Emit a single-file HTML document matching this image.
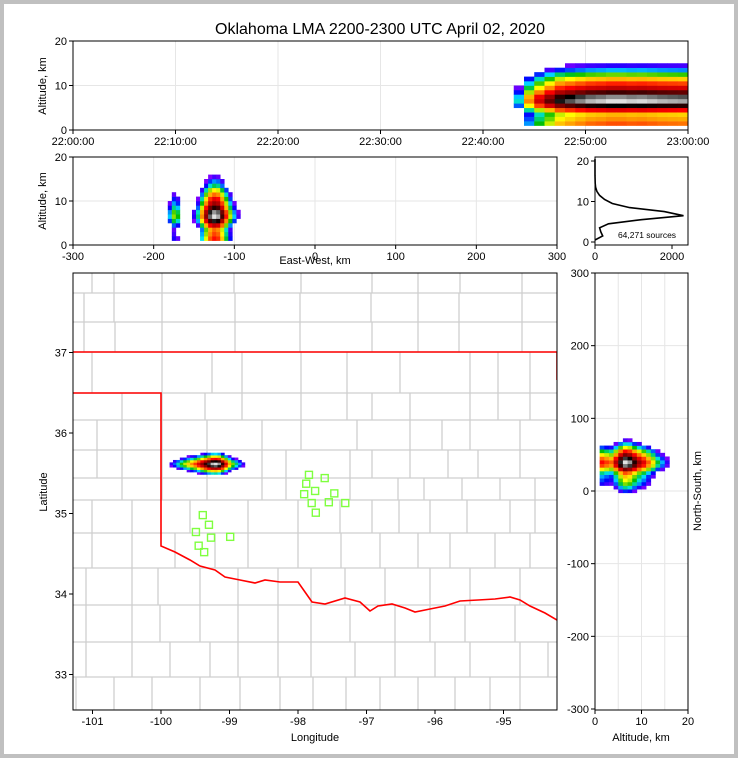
<!DOCTYPE html>
<html><head><meta charset="utf-8"><style>
html,body{margin:0;padding:0;background:#fff}
#wrap{width:730px;height:750px;border:4px solid #c0c0c0;position:relative;background:#fff}
svg{position:absolute;left:-4px;top:-4px}
text{font-family:"Liberation Sans",sans-serif;fill:#000}
</style></head><body>
<div id="wrap">
<svg id="s" width="738" height="758" xmlns="http://www.w3.org/2000/svg"></svg>
</div>
<script>
// ---------- data ----------
const altKm=[0,1,2,3,4,5,6,7,8,9,10,11,12,13,14,15,16,17,18,19,20];
const altCounts=[0,200,150,120,350,1200,2300,1800,900,450,250,120,50,15,6,2,1,0,0,0,0];
const minuteStarts=[43,44,45,46,47,48,49,50,51,52,53,54,55,56,57,58,59];
const minuteCounts=[40,300,800,1500,2500,3000,3500,4000,4200,4500,4500,4300,4400,4200,4000,3900,3800];
const ewKm=[-185,-180,-175,-170,-165,-160,-155,-150,-145,-140,-135,-130,-125,-120,-115,-110,-105,-100,-95,-90,-85,-80];
const ewCounts=[5,60,250,150,10,2,5,20,100,800,4000,12000,18000,15000,6000,1500,300,60,15,5,2,1];
const nsKm=[0,5,10,15,20,25,30,35,40,45,50,55,60,65,70];
const nsCounts=[30,100,250,400,600,1200,5000,15000,21000,12000,5000,1800,400,80,15];
const mapLon=[-99.85,-99.8,-99.75,-99.7,-99.65,-99.6,-99.55,-99.5,-99.45,-99.4,-99.35,-99.3,-99.25,-99.2,-99.15,-99.1,-99.05,-99.0,-98.95,-98.9,-98.85,-98.8,-98.75];
const mapLonCounts=[20,40,80,150,250,400,600,900,1500,2500,4000,6000,9000,10000,8000,4000,1500,500,200,100,50,20,10];
const mapLat=[35.50,35.53,35.56,35.59,35.62,35.65,35.68,35.71,35.74];
const mapLatCounts=[100,500,2500,8000,12000,6000,1500,400,80];
const sensorLon=[-97.84,-97.61,-97.88,-97.75,-97.47,-97.91,-97.55,-97.80,-97.31,-97.74,-99.39,-99.30,-99.49,-99.27,-98.99,-99.45,-99.37];
const sensorLat=[35.48,35.44,35.37,35.28,35.25,35.24,35.14,35.13,35.13,35.01,34.98,34.86,34.77,34.70,34.71,34.60,34.52];
const totalSources="64,271 sources";
// ---------- helpers ----------
const S=document.getElementById('s');const NS='http://www.w3.org/2000/svg';
function el(t,a,p){const e=document.createElementNS(NS,t);for(const k in a)e.setAttribute(k,a[k]);(p||S).appendChild(e);return e;}
function txt(x,y,s,sz,anc,p,rot){const e=el('text',{x:x,y:y,'font-size':sz,'text-anchor':anc||'middle'},p);if(rot)e.setAttribute('transform','rotate(-90 '+x+' '+y+')');e.textContent=s;return e;}
const stops=[[0,[128,0,255]],[0.12,[0,0,255]],[0.25,[0,230,255]],[0.36,[0,190,0]],[0.48,[255,255,0]],[0.58,[255,140,0]],[0.68,[255,0,0]],[0.8,[140,0,0]],[0.9,[0,0,0]],[1,[225,225,225]]];
function cmap(v){v=Math.max(0,Math.min(1,v));for(let i=1;i<stops.length;i++){if(v<=stops[i][0]){const a=stops[i-1],b=stops[i],f=(v-a[0])/(b[0]-a[0]);return 'rgb('+a[1].map((c,k)=>Math.round(c+(b[1][k]-c)*f)).join(',')+')';}}return 'rgb(225,225,225)';}
function lv(c,thr,mx){return Math.log(c/thr)/Math.log(mx/thr);}
const pSum=altCounts.reduce((a,b)=>a+b,0);
function lin(d0,d1,r0,r1){return v=>r0+(v-d0)*(r1-r0)/(d1-d0);}
const title=txt(380,34,'Oklahoma LMA 2200-2300 UTC April 02, 2020',16);


function panel(name){const g=el('g',{});return g;}
function frame(g,x0,y0,x1,y1){el('rect',{x:x0,y:y0,width:x1-x0,height:y1-y0,fill:'none',stroke:'#000','stroke-width':1},g);}
function grid(g,isX,pos,a,b){el('line',isX?{x1:pos,x2:pos,y1:a,y2:b}:{x1:a,x2:b,y1:pos,y2:pos},g).setAttribute('stroke','#e6e6e6');}
function xtick(g,x,y,lab){el('line',{x1:x,x2:x,y1:y,y2:y+4,stroke:'#000'},g);txt(x,y+15,lab,11,'middle',g);}
function ytick(g,x,y,lab){el('line',{x1:x-4,x2:x,y1:y,y2:y,stroke:'#000'},g);txt(x-6,y+4,lab,11,'end',g);}

// ---------- top panel ----------
{const g=panel('time-height-panel');const X=lin(0,60,73,688),Y=lin(0,20,130,41);
[10,20,30,40,50].forEach(m=>grid(g,true,X(m),41,130));grid(g,false,Y(10),73,688);
const mx=Math.max(...minuteCounts)*Math.max(...altCounts)/pSum,thr=2;
minuteStarts.forEach((m,i)=>{altKm.forEach((z,j)=>{const c=minuteCounts[i]*altCounts[j]/pSum;if(c<thr)return;
const r=el('rect',{x:X(m),y:Y(z+1),width:X(m+1)-X(m)+0.3,height:Y(z)-Y(z+1)+0.3,fill:cmap(lv(c,thr,mx))},g);
});});
frame(g,73,41,688,130);
['22:00:00','22:10:00','22:20:00','22:30:00','22:40:00','22:50:00','23:00:00'].forEach((l,i)=>xtick(g,X(i*10),130,l));
[0,10,20].forEach(v=>ytick(g,73,Y(v),v));
const yt=txt(46,86,'Altitude, km',11,'middle',g,true);}

// ---------- middle-left ----------
{const g=panel('ew-height-panel');const X=lin(-300,300,73,557),Y=lin(0,20,245,157);
[-200,-100,0,100,200].forEach(v=>grid(g,true,X(v),157,245));grid(g,false,Y(10),73,557);
const mx=Math.max(...ewCounts)*Math.max(...altCounts)/pSum,thr=3;
ewKm.forEach((e,i)=>{altKm.forEach((z,j)=>{const c=ewCounts[i]*altCounts[j]/pSum;if(c<thr)return;
const r=el('rect',{x:X(e-2.5),y:Y(z+1),width:X(5)-X(0)+0.3,height:Y(z)-Y(z+1)+0.3,fill:cmap(lv(c,thr,mx))},g);
});});
frame(g,73,157,557,245);
[-300,-200,-100,0,100,200,300].forEach(v=>xtick(g,X(v),245,v));
[0,10,20].forEach(v=>ytick(g,73,Y(v),v));
txt(46,201,'Altitude, km',11,'middle',g,true);
txt(315,264,'East-West, km',11,'middle',g);}

// ---------- histogram ----------
{const g=panel('altitude-histogram');const X=lin(0,2416,595,688),Y=lin(0,20,242,161);
frame(g,595,157,688,245);
let d='';altKm.forEach((z,j)=>{d+=(j?'L':'M')+X(altCounts[j]).toFixed(1)+','+Y(z+0.5).toFixed(1);});
const p=el('path',{d:d,fill:'none',stroke:'#000','stroke-width':1.6},g);
[0,2000].forEach(v=>xtick(g,X(v),245,v));[0,10,20].forEach(v=>ytick(g,595,Y(v),v));
txt(647,238,totalSources,8.5,'middle',g);}

// ---------- map ----------
const LX=lin(-100,-98,161,298),LY=lin(36,35,433,513.5);
{const g=panel('plan-view-map');
el('clipPath',{id:'mc'},g);el('rect',{x:73,y:273,width:484,height:437},g.lastChild);
const cg=el('g',{'clip-path':'url(#mc)'},g);
const rows=[[273,293,[92,114,162,234,301,372,418,460,522]],[293,322,[84,114,162,235,300,371,418,459,522]],[322,352,[84,115,162,235,300,372,418,459,522]],
[352,393,[92,162,212,242,301,347,400,470,498,530]],[393,420,[122,162,205,242,301,347,372,410,470,498,530]],[420,450,[97,122,162,207,262,301,357,410,442,470,520]],
[450,478,[97,122,162,207,262,286,350,372,410,448,478,520]],[478,500,[122,162,207,262,286,350,398,424,462,500,535]],[500,533,[92,132,190,248,298,340,372,399,430,467,510,535]],
[533,568,[92,132,175,215,248,298,341,380,418,450,495,530]],[568,605,[86,132,158,200,238,278,311,345,385,430,470,520]],[605,642,[86,132,160,200,238,278,311,350,395,430,465,515]],
[642,677,[86,132,170,210,238,278,311,355,395,435,470,520,548]],[677,710,[76,114,152,200,240,280,313,346,380,418,455,490,520]]];
rows.forEach(r=>{el('line',{x1:73,x2:557,y1:r[1],y2:r[1],stroke:'#cfcfcf','stroke-width':1.3},cg);
r[2].forEach(x=>el('line',{x1:x,x2:x,y1:r[0],y2:r[1],stroke:'#cfcfcf','stroke-width':1.3},cg));});
const ok='73,393 161,393 161,546 175,552 190,560 200,566 215,570 225,577 240,580 255,583 265,580 280,582 298,582 305,592 312,602 325,604 345,598 360,602 370,611 378,606 392,604 405,608 415,612 430,609 445,606 460,601 478,600 495,599 510,597 520,600 530,606 545,613 557,620';
el('polyline',{points:ok,fill:'none',stroke:'#f00','stroke-width':1.6},cg);
el('polyline',{points:'73,352 557,352 557,380',fill:'none',stroke:'#f00','stroke-width':1.6},cg);
const tot=mapLonCounts.reduce((a,b)=>a+b,0);
const mx=Math.max(...mapLonCounts)*Math.max(...mapLatCounts)/tot,thr=3;
mapLon.forEach((lo,i)=>{mapLat.forEach((la,j)=>{const c=mapLonCounts[i]*mapLatCounts[j]/tot;if(c<thr)return;
const x0=LX(lo-0.025),x1=LX(lo+0.025),y0=LY(la+0.015),y1=LY(la-0.015);
const r=el('rect',{x:x0,y:y0,width:x1-x0+0.3,height:y1-y0+0.3,fill:cmap(lv(c,thr,mx))},cg);
});});
sensorLon.forEach((lo,i)=>{const r=el('rect',{x:LX(lo)-3.5,y:LY(sensorLat[i])-3.5,width:7,height:7,fill:'none',stroke:'#7fff3f','stroke-width':1.4},cg);
});
frame(g,73,273,557,710);
[-101,-100,-99,-98,-97,-96,-95].forEach(v=>xtick(g,LX(v),710,v));
[37,36,35,34,33].forEach(v=>ytick(g,73,LY(v),v));
txt(315,741,'Longitude',11,'middle',g);
txt(47,492,'Latitude',11,'middle',g,true);}

// ---------- right ----------
{const g=panel('ns-height-panel');const X=lin(0,20,595,688),Y=lin(0,300,491,273);
[5,10,15].forEach(v=>grid(g,true,X(v),273,710));[-200,-100,0,100,200].forEach(v=>grid(g,false,Y(v),595,688));
const mx=Math.max(...nsCounts)*Math.max(...altCounts)/pSum,thr=3;
nsKm.forEach((n,i)=>{altKm.forEach((z,j)=>{const c=nsCounts[i]*altCounts[j]/pSum;if(c<thr)return;
const r=el('rect',{x:X(z),y:Y(n+2.5),width:X(1)-X(0)+0.3,height:Y(0)-Y(5)+0.3,fill:cmap(lv(c,thr,mx))},g);
});});
frame(g,595,273,688,710);
[0,10,20].forEach(v=>xtick(g,X(v),710,v));
[300,200,100,0,-100,-200,-300].forEach(v=>ytick(g,595,Y(v),v));
txt(641,741,'Altitude, km',11,'middle',g);
txt(701,491,'North-South, km',11,'middle',g,true);}
</script>
</body></html>
